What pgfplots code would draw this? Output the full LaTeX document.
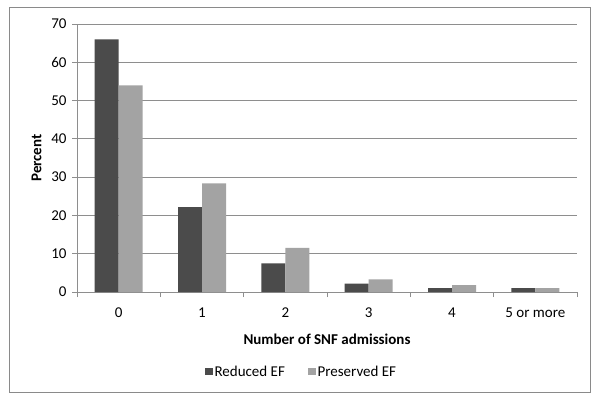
\documentclass[border=0pt]{standalone}
\usepackage{pgfplots}
\pgfplotsset{compat=1.18}
\usepackage{fontspec}
\setmainfont{Carlito}
\definecolor{darkbar}{HTML}{4B4B4B}
\definecolor{lightbar}{HTML}{A3A3A3}
\definecolor{gridc}{HTML}{8E8E8E}
\definecolor{framec}{HTML}{8A8A8A}
\begin{document}
\begin{tikzpicture}[x=1pt,y=1pt,font=\fontsize{15}{18}\selectfont]
\fill[white] (0,0) rectangle (600,402);
\draw[framec, line width=1pt] (9,10) rectangle (590,394);
\begin{axis}[
  at={(77pt,110pt)}, anchor=south west,
  width=500pt, height=268pt, scale only axis,
  ybar, bar width=24pt,
  xmin=-0.5, xmax=5.5, ymin=0, ymax=70,
  ytick={0,10,...,70},
  xtick={0,1,2,3,4,5},
  xticklabels={0,1,2,3,4,5 or more},
  minor xtick={-0.5,0.5,1.5,2.5,3.5,4.5,5.5},
  major x tick style={draw=none},
  minor x tick style={draw=gridc, line width=0.8pt},
  y tick style={draw=gridc, line width=0.8pt},
  tick align=outside,
  major tick length=5pt, minor tick length=5pt,
  axis x line*=bottom, axis y line*=left,
  axis line style={draw=gridc, line width=0.8pt, -},
  ymajorgrids, grid style={draw=gridc, line width=0.8pt},
  /pgf/number format/assume math mode=true,
  xticklabel style={yshift=-7pt},
  yticklabel style={xshift=-2pt},
  xlabel={\bfseries Number of SNF admissions},
  ylabel={\bfseries Percent},
  xlabel style={yshift=-10pt},
  ylabel style={yshift=3pt},
  legend style={at={(0.449,-0.297)}, anchor=center, draw=none, fill=none,
    legend columns=2, /tikz/every even column/.append style={column sep=21pt},
    nodes={inner sep=2pt}},
]
\addplot[fill=darkbar, draw=none, bar shift=-12pt,
  legend image code/.code={\fill[darkbar] (0pt,-3.8pt) rectangle (7.6pt,3.8pt);}]
  coordinates {(0,66) (1,22.2) (2,7.5) (3,2.2) (4,1.0) (5,1.0)};
\addplot[fill=lightbar, draw=none, bar shift=12pt,
  legend image code/.code={\fill[lightbar] (0pt,-3.8pt) rectangle (7.6pt,3.8pt);}]
  coordinates {(0,54) (1,28.4) (2,11.5) (3,3.3) (4,1.8) (5,1.0)};
\legend{Reduced EF, Preserved EF}
\end{axis}
\end{tikzpicture}
\end{document}
